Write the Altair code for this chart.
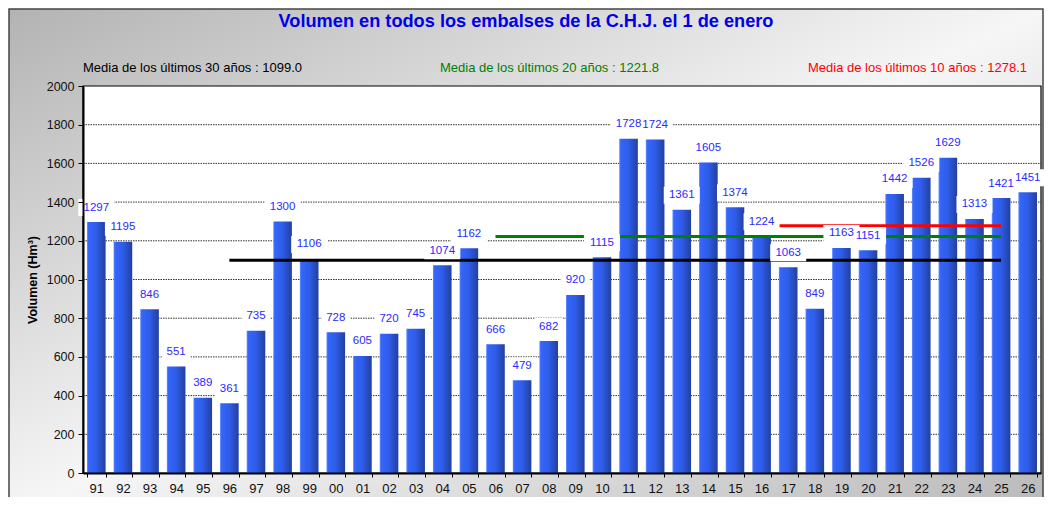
import altair as alt
import pandas as pd

years = ["91", "92", "93", "94", "95", "96", "97", "98", "99", "00", "01", "02",
         "03", "04", "05", "06", "07", "08", "09", "10", "11", "12", "13", "14",
         "15", "16", "17", "18", "19", "20", "21", "22", "23", "24", "25", "26"]
volumes = [1297, 1195, 846, 551, 389, 361, 735, 1300, 1106, 728, 605, 720,
           745, 1074, 1162, 666, 479, 682, 920, 1115, 1728, 1724, 1361, 1605,
           1374, 1224, 1063, 849, 1163, 1151, 1442, 1526, 1629, 1313, 1421, 1451]

mean_names = ["30", "20", "10"]
mean_values = [1099.0, 1221.8, 1278.1]
mean_start = ["96", "06", "16"]
mean_end = ["25", "25", "25"]
mean_colors = ["#000000", "#008000", "#ff0000"]
mean_texts = ["Media de los últimos 30 años : 1099.0",
              "Media de los últimos 20 años : 1221.8",
              "Media de los últimos 10 años : 1278.1"]

grid_values = [200, 400, 600, 800, 1000, 1200, 1400, 1600, 1800]
title_text = "Volumen en todos los embalses de la C.H.J. el 1 de enero"
y_title = "Volumen (Hm³)"

FONT = "Liberation Sans"
W, H = 958, 387
PL, PT, PR, PB = 75, 78, 3, 24

df = pd.DataFrame({"year": years, "value": volumes})
df["label"] = df["value"].astype(str)
means = pd.DataFrame({"name": mean_names, "value": mean_values,
                      "start": mean_start, "end": mean_end, "color": mean_colors,
                      "text": mean_texts})
grid = pd.DataFrame({"value": grid_values})
one = pd.DataFrame({"a": [0]})

x_scale = alt.Scale(domain=years, paddingInner=0.3, paddingOuter=0.15)
y_scale = alt.Scale(domain=[0, 2000], nice=False)

x_axis = alt.Axis(title=None, tickBand="extent", domainColor="#000", domainWidth=2,
                  tickColor="#000", tickSize=4, labelPadding=5, labelFont=FONT,
                  labelFontSize=13, labelColor="#111", labelAngle=0, grid=False,
                  zindex=2)
y_axis = alt.Axis(title=y_title, values=list(range(0, 2001, 200)), format="d",
                  domainColor="#000", domainWidth=2, tickColor="#000", tickSize=5,
                  labelPadding=4, labelFont=FONT, labelFontSize=12.5, labelColor="#111",
                  grid=False, titleFont=FONT, titleFontSize=12.5, titleFontWeight="bold",
                  titleColor="#000", titlePadding=7, zindex=2)


def X(field):
    return alt.X(f"{field}:N", scale=x_scale, axis=x_axis)


def X2(field):
    return alt.X2(f"{field}:N")


def Y(field):
    return alt.Y(f"{field}:Q", scale=y_scale, axis=y_axis)


bg = alt.Chart(one).mark_rect(
    color=alt.LinearGradient(gradient="linear", x1=0, y1=0, x2=1, y2=1,
                             stops=[alt.GradientStop(color="#b3b3b3", offset=0),
                                    alt.GradientStop(color="#f6f6f6", offset=0.5),
                                    alt.GradientStop(color="#b8b8b8", offset=1)]),
    stroke="#444444", strokeWidth=1.5
).encode(x=alt.value(-PL + 1), x2=alt.value(W + PR - 1),
         y=alt.value(-PT + 1), y2=alt.value(H + PB + 20))

plot_bg = alt.Chart(one).mark_rect(color="white", stroke="#000", strokeWidth=1.2).encode(
    x=alt.value(0), x2=alt.value(W), y=alt.value(0), y2=alt.value(H))

grid_rules = alt.Chart(grid).mark_rule(color="#333", strokeWidth=1, strokeDash=[1.5, 1]).encode(
    y=Y("value"), x=alt.value(0), x2=alt.value(W))

bar_grad = alt.LinearGradient(gradient="linear", x1=0, y1=0, x2=1, y2=0,
                              stops=[alt.GradientStop(color="#6b94ff", offset=0),
                                     alt.GradientStop(color="#3466fb", offset=0.08),
                                     alt.GradientStop(color="#2f5ce8", offset=0.5),
                                     alt.GradientStop(color="#22409f", offset=1)])
bars = alt.Chart(df).mark_bar(color=bar_grad).encode(x=X("year"), y=Y("value"))

mean_rules = alt.Chart(means).mark_rule(strokeWidth=3).encode(
    x=X("start"), x2=X2("end"), y=Y("value"),
    color=alt.Color("color:N", scale=None))

box4 = alt.Chart(df).transform_filter("datum.value >= 1000").mark_bar(
    color="white", width=36, yOffset=-6, y2Offset=-23).encode(
    x=X("year"), y=Y("value"), y2=alt.Y2("value"))
box3 = alt.Chart(df).transform_filter("datum.value < 1000").mark_bar(
    color="white", width=29, yOffset=-6, y2Offset=-23).encode(
    x=X("year"), y=Y("value"), y2=alt.Y2("value"))

labels = alt.Chart(df).mark_text(font=FONT, fontSize=11.5, color="#2a2aff",
                                 baseline="middle", dy=-14.5).encode(
    x=X("year"), y=Y("value"), text="label:N")

title = alt.Chart(one).mark_text(text=title_text, font=FONT, fontSize=18.2,
                                 fontWeight="bold", color="#0000e6",
                                 align="center", baseline="middle").encode(
    x=alt.value(443), y=alt.value(-64))

sub_x = [0, 357, 725]
subs = []
for i, name in enumerate(mean_names):
    subs.append(
        alt.Chart(means).transform_filter(alt.datum.name == name).mark_text(
            font=FONT, fontSize=13, align="left", baseline="middle",
            color=mean_colors[i]).encode(
            x=alt.value(sub_x[i]), y=alt.value(-18), text="text:N"))

chart = alt.layer(bg, plot_bg, grid_rules, bars, mean_rules, box4, box3, labels,
                  title, *subs).properties(
    width=W, height=H,
    padding={"left": PL, "top": PT, "right": PR, "bottom": PB},
    autosize=alt.AutoSizeParams(type="none"),
).configure_view(stroke=None).configure(background="white")

chart.save("out.html", embed_options={"renderer": "svg", "actions": False})
